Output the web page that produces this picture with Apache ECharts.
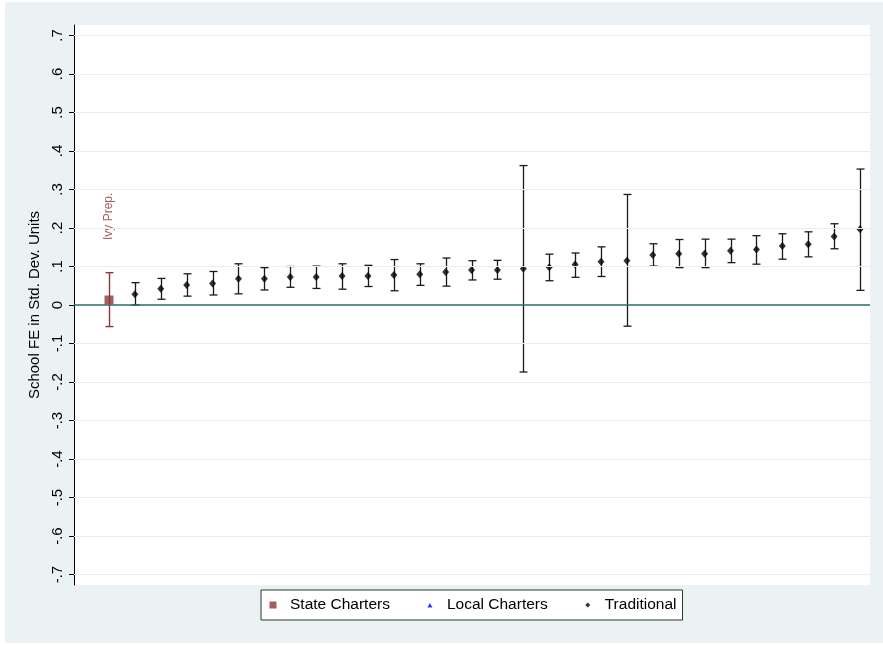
<!DOCTYPE html>
<html><head><meta charset="utf-8">
<script src="https://cdn.jsdelivr.net/npm/echarts@6/dist/echarts.min.js"></script>
<style>html,body{margin:0;padding:0;background:#fff;}#c{position:absolute;left:5px;top:2px;width:878px;height:641px;}</style>
</head><body><div id="c"></div><script>
// State charters
const stateX = [1];
const stateEst = [0.013];
const stateLo = [-0.056];
const stateHi = [0.084];
const stateLabels = ['Ivy Prep.'];
const stateLabelY = [0.238];
// Local charters (none shown)
const localX = [];
const localEst = [];
// Traditional schools
const tradX = [2,3,4,5,6,7,8,9,10,11,12,13,14,15,16,17,18,19,20,21,22,23,24,25,26,27,28,29,30];
const tradEst = [0.028,0.042,0.052,0.056,0.068,0.068,0.073,0.073,0.075,0.075,0.078,0.080,0.086,0.091,0.091,0.094,0.098,0.105,0.112,0.115,0.130,0.133,0.133,0.141,0.144,0.153,0.158,0.178,0.197];
const tradLo = [0.000,0.015,0.023,0.026,0.029,0.039,0.046,0.043,0.041,0.048,0.037,0.051,0.049,0.065,0.067,-0.174,0.063,0.072,0.074,-0.055,0.101,0.097,0.097,0.110,0.106,0.119,0.125,0.146,0.038];
const tradHi = [0.058,0.069,0.081,0.087,0.107,0.097,0.100,0.101,0.107,0.103,0.118,0.107,0.122,0.115,0.116,0.362,0.132,0.135,0.151,0.287,0.159,0.170,0.171,0.171,0.180,0.185,0.190,0.211,0.353];
// Y ticks
const yTicks = [-0.7,-0.6,-0.5,-0.4,-0.3,-0.2,-0.1,0,0.1,0.2,0.3,0.4,0.5,0.6,0.7];

const FONT = 'Liberation Sans, Arial, sans-serif';
const MAROON = '#90353B';

function fmt(v){
  if (Math.abs(v) < 1e-9) return '0';
  const s = Math.abs(v).toFixed(1).replace(/^0/, '');
  return (v < 0 ? '-' : '') + s;
}
function errRender(color, lw){
  return function(params, api){
    const x = api.value(0), lo = api.value(1), hi = api.value(2);
    const a = api.coord([x, lo]), b = api.coord([x, hi]);
    const cx = Math.round(a[0]) + 0.5;
    const hw = 4;
    const st = {stroke: color, lineWidth: lw};
    return {type:'group', children:[
      {type:'line', shape:{x1:cx, y1:a[1], x2:cx, y2:b[1]}, style:st},
      {type:'line', shape:{x1:cx-hw, y1:a[1], x2:cx+hw, y2:a[1]}, style:st},
      {type:'line', shape:{x1:cx-hw, y1:b[1], x2:cx+hw, y2:b[1]}, style:st}
    ]};
  };
}

const stateErr = stateX.map((x,i)=>[x, stateLo[i], stateHi[i]]);
const tradErr = tradX.map((x,i)=>[x, tradLo[i], tradHi[i]]);
const statePts = stateX.map((x,i)=>[x, stateEst[i]]);
const tradPts = tradX.map((x,i)=>[x, tradEst[i]]);
const localPts = localX.map((x,i)=>[x, localEst[i]]);
const labelPts = stateX.map((x,i)=>[x, stateLabelY[i], stateLabels[i]]);

const chart = echarts.init(document.getElementById('c'), null, {renderer:'canvas'});
chart.setOption({
  animation: false,
  backgroundColor: '#EAF2F3',
  textStyle: {fontFamily: FONT},
  grid: {left: 69, top: 23, right: 13, bottom: 58, show: true, backgroundColor: '#fff', borderWidth: 0},
  xAxis: {type:'value', min:-0.3515, max:30.386, show:false},
  yAxis: {
    type:'value', min:-0.727, max:0.727,
    name:'School FE in Std. Dev. Units', nameLocation:'middle', nameRotate:90, nameGap:29,
    nameTextStyle:{fontSize:15, color:'#000', fontFamily:FONT},
    axisLine:{show:true, onZero:false, lineStyle:{color:'#000', width:1}},
    axisTick:{show:true, length:5, customValues:yTicks, lineStyle:{color:'#000', width:1}},
    axisLabel:{customValues:yTicks, rotate:90, margin:9, fontSize:15, color:'#000', fontFamily:FONT, formatter: fmt},
    splitLine:{show:false}
  },
  legend: {
    left: 256, top: 588, orient:'horizontal',
    padding:[7,6,7,4], itemGap:32, itemWidth:20, itemHeight:8,
    backgroundColor:'#fff', borderColor:'#333', borderWidth:1, borderRadius:0,
    textStyle:{fontSize:15.5, color:'#000', fontFamily:FONT},
    data:[
      {name:'State Charters', icon:'path://M0,0M20,8M4.5,0.5L11.5,0.5L11.5,7.5L4.5,7.5Z'},
      {name:'Local Charters', icon:'path://M0,0M20,8M8,2L10.5,6.5L5.5,6.5Z'},
      {name:'Traditional', icon:'path://M0,0M20,8M8,1.5L10.5,4L8,6.5L5.5,4Z'}
    ]
  },
  series: [
    {
      name:'grid', type:'line', data:[], silent:true, z:1,
      markLine:{silent:true, symbol:['none','none'], label:{show:false}, animation:false,
        lineStyle:{color:'#E6EEF1', width:1, type:'solid'},
        data: yTicks.filter(v=>Math.abs(v)>1e-9).map(v=>({yAxis:v}))}
    },
    {
      name:'zero', type:'line', data:[], silent:true, z:2,
      markLine:{silent:true, symbol:['none','none'], label:{show:false}, animation:false,
        lineStyle:{color:'#2F6B66', width:1.6, type:'solid'},
        data:[{yAxis:0}]}
    },
    {name:'stateErr', type:'custom', renderItem: errRender(MAROON, 1.4), data: stateErr, z:3, silent:true},
    {name:'tradErr', type:'custom', renderItem: errRender('#1a1a1a', 1.3), data: tradErr, z:3, silent:true},
    {name:'State Charters', type:'scatter', symbol:'rect', symbolSize:9, itemStyle:{color:MAROON}, data: statePts, z:4},
    {name:'Local Charters', type:'scatter', symbol:'triangle', symbolSize:6, itemStyle:{color:'#0000FF'}, data: localPts, z:4},
    {name:'Traditional', type:'scatter', symbol:'diamond', symbolSize:[7,8], itemStyle:{color:'#000'}, data: tradPts, z:4},
    {name:'labels', type:'scatter', symbolSize:0, data: labelPts, z:4, silent:true,
      label:{show:true, position:'inside', rotate:90, offset:[-3,0], fontSize:12, color:MAROON, fontFamily:FONT,
        formatter: p => p.data[2]}}
  ]
});
</script></body></html>
